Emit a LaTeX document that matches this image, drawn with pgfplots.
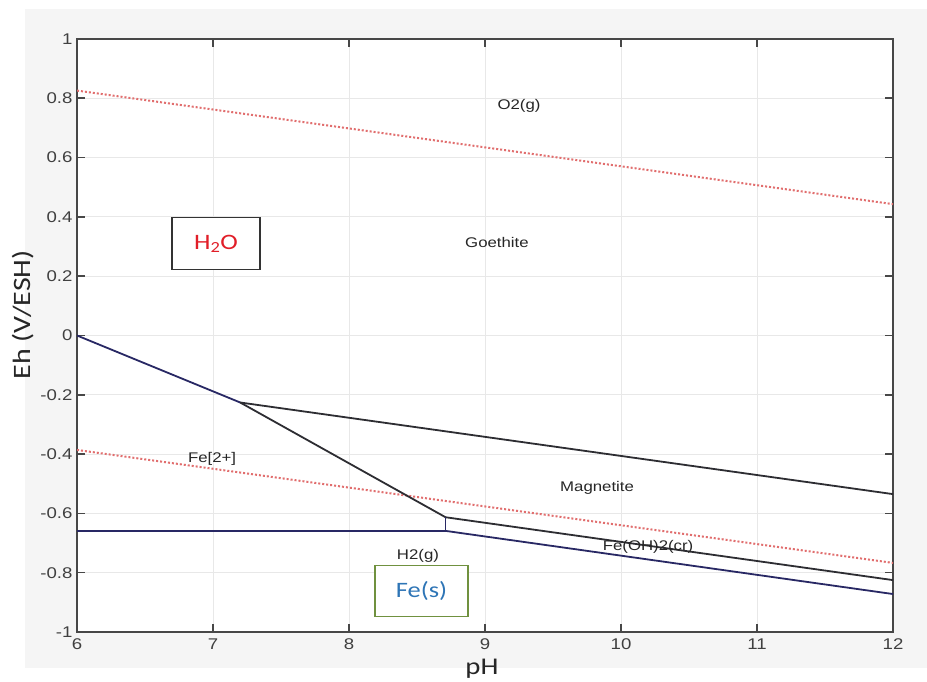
\documentclass[border=0pt]{standalone}
\usepackage{pgfplots}
\pgfplotsset{compat=1.18}
\usepackage{fontspec}
\setmainfont{Liberation Sans}
\newfontfamily\lab[FakeStretch=1.2]{Liberation Sans}
\newfontfamily\calfont[FakeStretch=1.2]{Carlito}
\definecolor{navyl}{RGB}{40,40,100}
\definecolor{darkl}{RGB}{45,45,50}
\definecolor{dotred}{RGB}{225,110,110}
\definecolor{panel}{RGB}{245,245,245}
\definecolor{h2ored}{RGB}{225,30,40}
\definecolor{feblue}{RGB}{46,117,182}
\definecolor{fegreen}{RGB}{112,145,63}
\begin{document}
\begin{tikzpicture}[x=1bp,y=1bp]
\useasboundingbox (0,0) rectangle (927,682);
\fill[white] (0,0) rectangle (927,682);
\fill[panel] (25,14) rectangle (927,673);
\begin{axis}[
  at={(77bp,50bp)}, anchor=south west,
  scale only axis, width=816bp, height=593bp,
  xmin=6, xmax=12, ymin=-1, ymax=1,
  xtick={6,7,8,9,10,11,12},
  ytick={-1,-0.8,-0.6,-0.4,-0.2,0,0.2,0.4,0.6,0.8,1},
  yticklabels={-1,-0.8,-0.6,-0.4,-0.2,0,0.2,0.4,0.6,0.8,1},
  xticklabels={6,7,8,9,10,11,12},
  axis background/.style={fill=white},
  axis line style={line width=2.2bp, black!72},
  tick align=inside,
  major tick length=8bp,
  tick style={line width=1.6bp, black!72},
  grid=major,
  major grid style={line width=1bp, black!9},
  /pgf/number format/assume math mode=true,
  tick label style={font=\lab\fontsize{15.5bp}{16bp}\selectfont, text=black!75},
  xticklabel style={yshift=-3bp},
  yticklabel style={xshift=-1bp},
  clip=true,
]
% water stability lines
\addplot[dotred, line width=2bp, dotted] coordinates {(6,0.826) (12,0.443)};
\addplot[dotred, line width=2bp, dotted] coordinates {(6,-0.386) (12,-0.767)};
% Fe2+ / Goethite
\addplot[navyl, line width=1.8bp] coordinates {(6,0) (7.2,-0.226)};
% Fe2+ / Magnetite
\addplot[darkl, line width=1.8bp] coordinates {(7.2,-0.226) (8.71,-0.613)};
% Goethite / Magnetite
\addplot[darkl, line width=1.8bp] coordinates {(7.2,-0.226) (12,-0.535)};
% Magnetite / Fe(OH)2
\addplot[darkl, line width=1.8bp] coordinates {(8.71,-0.613) (12,-0.825)};
% vertical Fe2+ / Fe(OH)2
\addplot[navyl, line width=1.6bp] coordinates {(8.71,-0.613) (8.71,-0.659)};
% Fe2+ / Fe
\addplot[navyl, line width=1.8bp] coordinates {(6,-0.659) (8.71,-0.659)};
% Fe(OH)2 / Fe
\addplot[navyl, line width=1.8bp] coordinates {(8.71,-0.659) (12,-0.872)};
% labels
\begin{scope}[every node/.style={font=\lab\fontsize{14bp}{14bp}\selectfont, text=black!85}]
\node at (axis cs:9.25,0.774) {O2(g)};
\node at (axis cs:9.088,0.315) {Goethite};
\node at (axis cs:6.993,-0.417) {Fe[2+]};
\node at (axis cs:9.824,-0.515) {Magnetite};
\node at (axis cs:10.199,-0.713) {Fe(OH)2(cr)};
\node at (axis cs:8.507,-0.744) {H2(g)};
\end{scope}
\node[draw=black!80, line width=1.2bp, fill=white, minimum width=88bp, minimum height=52bp, inner sep=0pt,
      font=\calfont\fontsize{22bp}{22bp}\selectfont, text=h2ored] at (axis cs:7.022,0.309) {H\textsubscript{2}O};
\node[draw=fegreen, line width=1.2bp, fill=white, minimum width=93bp, minimum height=51bp, inner sep=0pt,
      font=\calfont\fontsize{22bp}{22bp}\selectfont, text=feblue] at (axis cs:8.533,-0.863) {Fe(s)};
\end{axis}
\node[anchor=base, font=\calfont\fontsize{24bp}{24bp}\selectfont, text=black!85] at (482,7.5) {pH};
\node[rotate=90, font=\calfont\fontsize{25bp}{25bp}\selectfont, text=black!85] at (23,367) {Eh (V/ESH)};
\end{tikzpicture}
\end{document}
